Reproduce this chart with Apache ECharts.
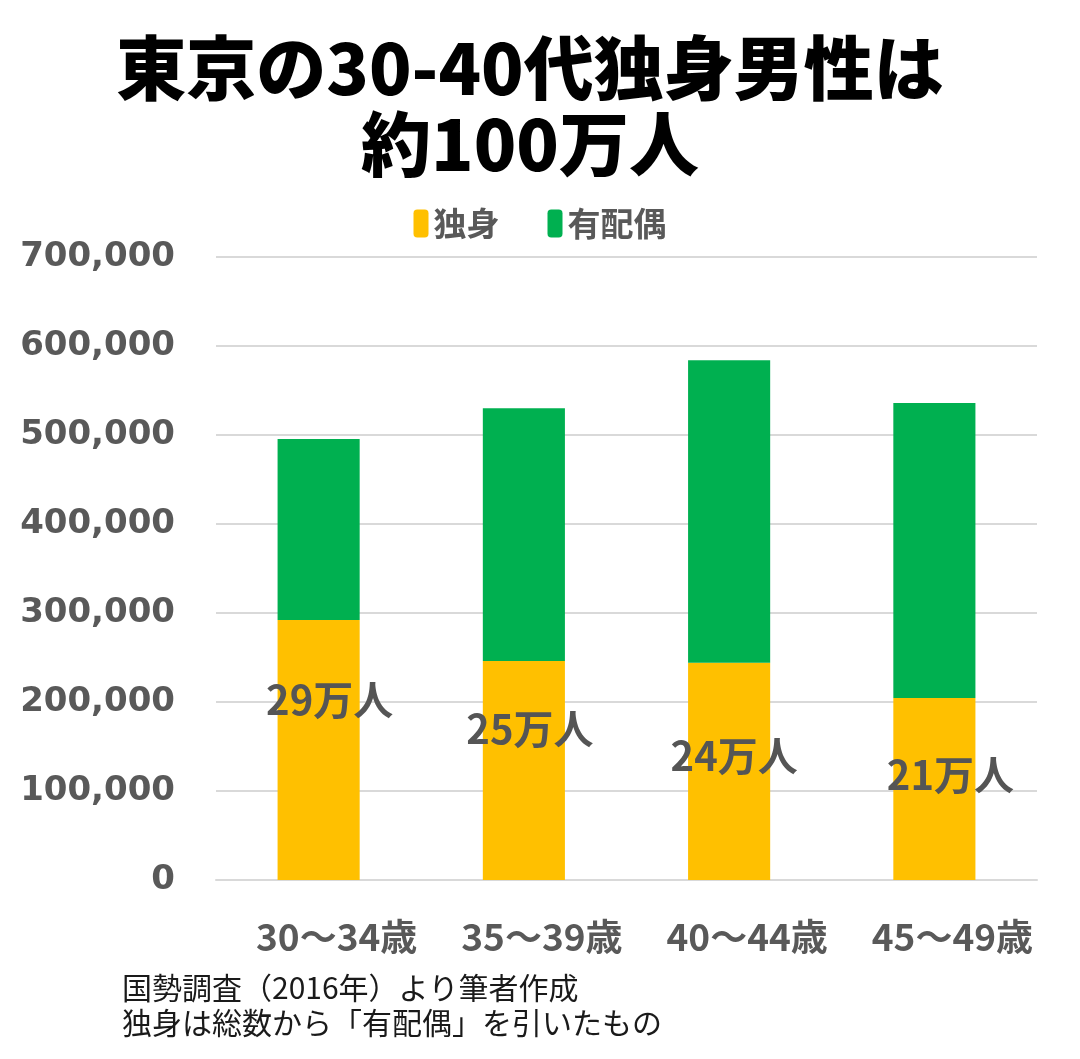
<!DOCTYPE html>
<html><head><meta charset="utf-8">
<script src="https://cdn.jsdelivr.net/npm/echarts@6/dist/echarts.min.js"></script>
<style>html,body{margin:0;padding:0;background:#fff}#c{width:1080px;height:1059px}</style>
</head><body><div id="c"></div>
<script>
const categories = ['30～34歳', '35～39歳', '40～44歳', '45～49歳'];
const singleValues = [292000, 246000, 244000, 204500];
const marriedValues = [203500, 284000, 340000, 331500];
const singleLabels = ['29万人', '25万人', '24万人', '21万人'];
const seriesNames = ['独身', '有配偶'];
const yTicks = [0, 100000, 200000, 300000, 400000, 500000, 600000, 700000];
const titleText = '東京の30-40代独身男性は\n約100万人';
const noteLines = ['国勢調査（2016年）より筆者作成', '独身は総数から「有配偶」を引いたもの'];

const labelNudge = [[11, -50], [6, -42], [5, -16], [16, -14]];
const FONT = '"Noto Sans CJK JP", "Noto Sans", sans-serif';

const chart = echarts.init(document.getElementById('c'));
chart.setOption({
  animation: false,
  backgroundColor: '#fff',
  legend: {
    top: 202, left: 'center', itemWidth: 15, itemHeight: 28, itemGap: 48,
    textStyle: { fontFamily: FONT, fontSize: 33, fontWeight: 'bold', color: '#595959' },
    data: seriesNames
  },
  grid: { left: 216, right: 43, top: 257, bottom: 179 },
  xAxis: {
    type: 'category', data: categories,
    axisLine: { lineStyle: { color: '#d9d9d9', width: 2 } },
    axisTick: { show: false },
    axisLabel: { interval: 0, margin: 38, padding: [0, 0, 0, 36], fontFamily: FONT, fontSize: 37, fontWeight: 'bold', color: '#595959' }
  },
  yAxis: {
    type: 'value', min: yTicks[0], max: yTicks[yTicks.length - 1], interval: yTicks[1] - yTicks[0],
    axisLine: { show: false }, axisTick: { show: false },
    splitLine: { lineStyle: { color: '#d9d9d9', width: 2 } },
    axisLabel: { margin: 41, fontFamily: '"DejaVu Sans", sans-serif', fontSize: 34, fontWeight: 'bold', color: '#595959',
      formatter: v => v.toLocaleString('en-US') }
  },
  series: [
    {
      name: seriesNames[0], type: 'bar', stack: 'total', barWidth: '40%',
      itemStyle: { color: '#FFC000' },
      data: singleValues.map((v, i) => ({
        value: v,
        label: { show: true, position: 'inside', offset: labelNudge[i], formatter: singleLabels[i],
          fontFamily: FONT, fontSize: 40, fontWeight: 'bold', color: '#555555' }
      }))
    },
    {
      name: seriesNames[1], type: 'bar', stack: 'total', barWidth: '40%',
      itemStyle: { color: '#00B050' },
      data: marriedValues
    }
  ],
  graphic: [
    {
      type: 'text', x: 530, y: 30,
      style: { text: titleText, textAlign: 'center', fontFamily: FONT, fontSize: 70, fontWeight: 900, lineHeight: 76, fill: '#000' }
    },
    {
      type: 'text', left: 122, top: 970,
      style: { text: noteLines.join('\n'), fontFamily: FONT, fontSize: 30, lineHeight: 35, fill: '#1a1a1a' }
    }
  ]
});
</script></body></html>
